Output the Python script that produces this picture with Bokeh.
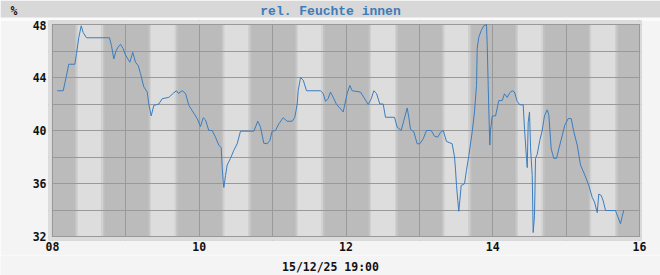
from bokeh.plotting import figure
from bokeh.layouts import column
from bokeh.models import Range1d, FixedTicker, CustomJSTickFormatter, ColumnDataSource
from bokeh.core.properties import value
from bokeh.embed import file_html
from bokeh.resources import INLINE

# ---- data (hours of day, relative humidity %) ----
hours = [8.064, 8.146, 8.185, 8.222, 8.304, 8.327, 8.358, 8.391, 8.418, 8.463, 8.777,
         8.804, 8.835, 8.865, 8.895, 8.927, 8.961, 8.995, 9.054, 9.094, 9.131, 9.168,
         9.199, 9.244, 9.291, 9.312, 9.345, 9.381, 9.449, 9.495, 9.585, 9.653, 9.690,
         9.713, 9.768, 9.813, 9.858, 9.904, 9.972, 10.017, 10.054, 10.085, 10.130,
         10.176, 10.221, 10.266, 10.299, 10.313, 10.326, 10.335, 10.358, 10.381,
         10.426, 10.471, 10.517, 10.562, 10.744, 10.798, 10.835, 10.880, 10.926,
         10.962, 10.994, 11.039, 11.084, 11.144, 11.198, 11.267, 11.302, 11.335,
         11.348, 11.380, 11.417, 11.462, 11.652, 11.689, 11.721, 11.755, 11.789,
         11.826, 11.871, 11.916, 11.962, 12.016, 12.052, 12.084, 12.198, 12.243,
         12.303, 12.344, 12.379, 12.416, 12.461, 12.507, 12.538, 12.661, 12.698,
         12.752, 12.788, 12.834, 12.856, 12.879, 12.924, 12.970, 13.006, 13.052,
         13.097, 13.161, 13.206, 13.251, 13.288, 13.325, 13.370, 13.447, 13.479,
         13.492, 13.506, 13.524, 13.537, 13.551, 13.570, 13.615, 13.642, 13.674,
         13.720, 13.751, 13.779, 13.788, 13.810, 13.843, 13.878, 13.915, 13.925,
         13.938, 13.952, 13.960, 13.969, 13.993, 14.038, 14.083, 14.129, 14.160,
         14.197, 14.232, 14.265, 14.296, 14.333, 14.369, 14.415, 14.433, 14.460,
         14.470, 14.483, 14.501, 14.515, 14.538, 14.551, 14.569, 14.583, 14.606,
         14.641, 14.674, 14.705, 14.742, 14.764, 14.797, 14.832, 14.869, 14.900,
         14.946, 14.982, 15.028, 15.069, 15.105, 15.151, 15.196, 15.250, 15.309,
         15.355, 15.387, 15.424, 15.445, 15.478, 15.505, 15.537, 15.673, 15.704,
         15.741, 15.764, 15.786]
humidity = [43.0, 43.0, 44.0, 45.0, 45.0, 45.8, 47.0, 47.9, 47.4, 47.0, 47.0,
            46.4, 45.4, 46.0, 46.3, 46.5, 46.2, 45.7, 45.15, 45.9, 45.15, 44.9,
            44.3, 43.3, 42.9, 42.0, 41.1, 41.9, 42.0, 42.4, 42.5, 42.85, 43.0,
            42.8, 43.0, 42.8, 41.9, 41.5, 40.9, 40.3, 40.96, 40.8, 40.0,
            40.0, 39.5, 38.9, 38.7, 37.2, 36.2, 35.7, 36.6, 37.4,
            37.9, 38.5, 39.0, 39.95, 39.95, 40.7, 40.25, 39.04, 39.0,
            39.25, 39.95, 40.0, 40.5, 40.96, 40.7, 40.7, 41.0, 42.0,
            43.0, 44.0, 43.8, 43.0, 43.0, 42.8, 42.2, 42.4, 42.9,
            42.5, 41.96, 41.7, 41.4, 42.8, 43.4, 43.0, 42.9, 42.5,
            41.96, 42.4, 43.0, 42.8, 42.0, 42.0, 41.0, 41.0, 40.25,
            40.0, 40.75, 41.7, 41.0, 40.1, 39.9, 39.0, 39.0, 39.37,
            40.0, 40.0, 39.57, 39.5, 39.87, 40.0, 39.17, 39.0, 38.0,
            37.1, 35.85, 34.7, 33.9, 34.7, 35.85, 35.98, 37.0, 38.1,
            39.9, 41.4, 43.4, 46.2, 47.04, 47.55, 47.9, 48.0, 46.4,
            43.4, 40.4, 38.9, 40.0, 41.1, 41.1, 42.26, 42.26, 42.77,
            42.5, 42.85, 43.0, 42.9, 42.2, 41.94, 41.94, 40.1, 37.9,
            37.2, 40.6, 41.4, 38.7, 36.6, 32.3, 33.6, 37.9, 38.2,
            39.25, 40.0, 41.1, 41.56, 41.2, 38.6, 37.9, 37.9, 38.6,
            39.6, 40.4, 40.9, 40.9, 39.9, 38.9, 37.4, 36.7, 35.85,
            34.96, 34.6, 33.8, 35.2, 35.1, 34.7, 33.96, 33.96, 33.5,
            32.96, 33.5, 34.0]

x_ticks = [8, 10, 12, 14, 16]
y_ticks = [32, 36, 40, 44, 48]
x_grid = [8, 9, 10, 11, 12, 13, 14, 15, 16]
y_grid = [32, 34, 36, 38, 40, 42, 44, 46, 48]
title_text = "rel. Feuchte innen"
unit_text = "%"
date_text = "15/12/25 19:00"

W = 660
H_TOP, H_MAIN, H_BOT = 20, 235, 20
FONT = "DejaVu Sans Mono"
TXT = "#111111"


def strip_figure(height, bg):
    f = figure(width=W, height=height, x_range=Range1d(0, W), y_range=Range1d(height, 0),
               output_backend="svg", toolbar_location=None, title=None,
               x_axis_location=None, y_axis_location=None,
               min_border=0, min_border_left=0, min_border_right=0,
               min_border_top=0, min_border_bottom=0, frame_align=False)
    f.grid.visible = False
    f.outline_line_color = None
    f.background_fill_color = bg
    f.border_fill_color = bg
    return f


# ---------------- header (title bar) ----------------
pt = strip_figure(H_TOP, "#fbfbfb")
pt.quad(left=0, right=W, top=0, bottom=17, fill_color="#d8d8d8", line_color=None)
pt.text(x=[W / 2], y=[11], text=[title_text], text_font=value("Liberation Mono"),
        text_font_style="bold", text_font_size="13px", text_color="#3d7cb8",
        text_align="center", text_baseline="alphabetic")
pt.text(x=[13.5], y=[10.5], text=[unit_text], text_font=value(FONT),
        text_font_style="bold", text_font_size="11.5px", text_color=TXT,
        text_align="center", text_baseline="alphabetic")

# ---------------- main plot ----------------
PXH = (639 - 52) / 8.0      # pixels per hour
PXY = (236 - 24) / 16.0     # pixels per % unit
ML, MR, MT, MB = 4, 2, 4, 4  # light margin around the plot box (px)
x0, x1 = 8 - ML / PXH, 16 + MR / PXH
y0, y1 = 32 - MB / PXY, 48 + MT / PXY

pm = figure(width=W, height=H_MAIN, x_range=Range1d(x0, x1), y_range=Range1d(y0, y1),
            output_backend="svg", toolbar_location=None, title=None,
            min_border_left=48, min_border_right=W - 641, min_border_top=0,
            min_border_bottom=H_MAIN - 220, frame_align=False)
pm.border_fill_color = "#f4f4f4"
pm.background_fill_color = "#bbbbbb"
pm.outline_line_color = None

# hourly light bands (with soft edges)
band_parts = [(0.307, 0.325, "#c4c4c4"), (0.325, 0.341, "#d2d2d2"),
              (0.341, 0.668, "#dddddd"), (0.668, 0.689, "#d2d2d2"),
              (0.689, 0.709, "#c4c4c4")]
L, R, C = [], [], []
for h in x_grid[:-1]:
    for a, b, c in band_parts:
        L.append(h + a); R.append(h + b); C.append(c)
pm.quad(left="left", right="right", bottom=32, top=48, fill_color="color",
        line_color=None, source=ColumnDataSource(dict(left=L, right=R, color=C)),
        level="image")

# grid
pm.xgrid.ticker = FixedTicker(ticks=x_grid)
pm.ygrid.ticker = FixedTicker(ticks=y_grid)
for g in (pm.xgrid[0], pm.ygrid[0]):
    g.grid_line_color = "#999999"
    g.grid_line_width = 1
    g.grid_line_alpha = 1

# light margin around the plot box
M = "#dcdcdc"
e = 0.6
pm.quad(left=[x0, 16 + e / PXH, x0, x0], right=[8 - e / PXH, x1, x1, x1],
        bottom=[y0, y0, 48 + e / PXY, y0], top=[y1, y1, y1, 32 - e / PXY],
        fill_color=M, line_color=None)

# data line
pm.line(hours, humidity, line_color="#3a7dbf", line_width=1)

# axes
pm.xaxis.ticker = FixedTicker(ticks=x_ticks)
pm.yaxis.ticker = FixedTicker(ticks=y_ticks)
pm.xaxis.formatter = CustomJSTickFormatter(code="return (tick < 10 ? '0' : '') + tick.toFixed(0);")
for ax in (pm.xaxis[0], pm.yaxis[0]):
    ax.axis_line_color = None
    ax.major_tick_line_color = None
    ax.minor_tick_line_color = None
    ax.major_tick_in = 0
    ax.major_tick_out = 0
    ax.minor_tick_in = 0
    ax.minor_tick_out = 0
    ax.major_label_text_font = FONT
    ax.major_label_text_font_style = "bold"
    ax.major_label_text_font_size = "11.5px"
    ax.major_label_text_color = TXT
pm.xaxis.major_label_standoff = 1
pm.yaxis.major_label_standoff = 2

# ---------------- footer (date) ----------------
pb = strip_figure(H_BOT, "#f4f4f4")
pb.text(x=[W / 2], y=[11], text=[date_text], text_font=value(FONT),
        text_font_style="bold", text_font_size="11.5px", text_color=TXT,
        text_align="center", text_baseline="middle")

layout = column(pt, pm, pb, spacing=0)
open("out.html", "w").write(file_html(layout, INLINE))
